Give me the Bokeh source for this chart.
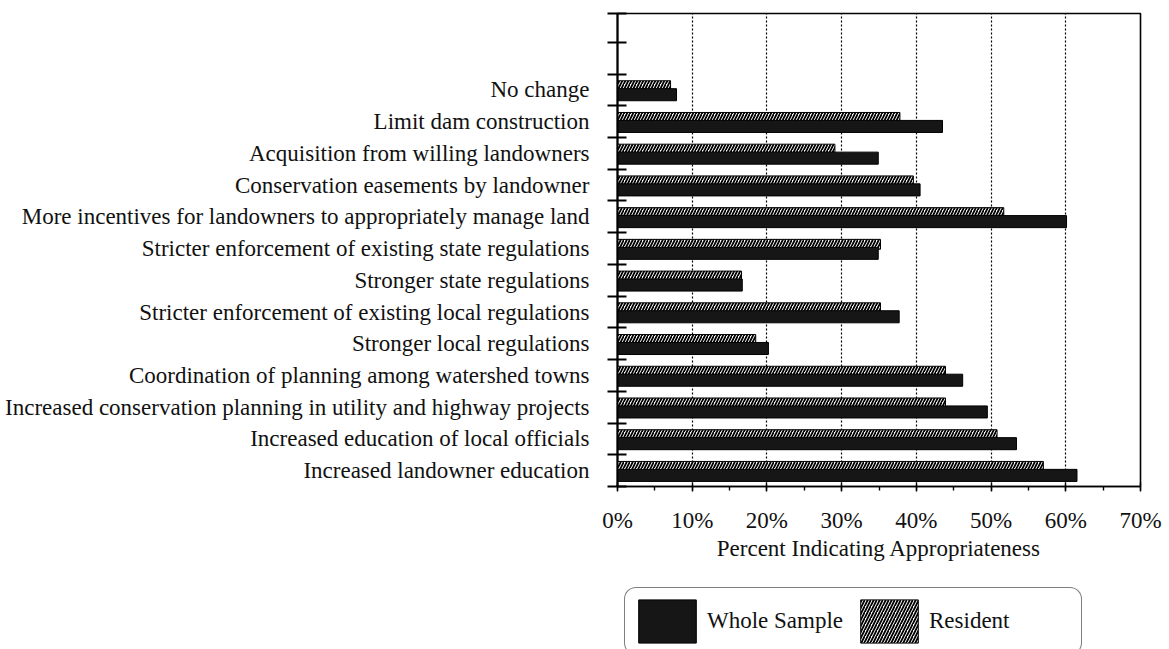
from bokeh.plotting import figure
from bokeh.layouts import column
from bokeh.models import (FixedTicker, SingleIntervalTicker, PrintfTickFormatter,
                          Legend, LegendItem, ColumnDataSource, Range1d)
from bokeh.embed import file_html
from bokeh.resources import INLINE

# ---------------- data (top to bottom as printed) ----------------
categories = [
    "No change",
    "Limit dam construction",
    "Acquisition from willing landowners",
    "Conservation easements by landowner",
    "More incentives for landowners to appropriately manage land",
    "Stricter enforcement of existing state regulations",
    "Stronger state regulations",
    "Stricter enforcement of existing local regulations",
    "Stronger local regulations",
    "Coordination of planning among watershed towns",
    "Increased conservation planning in utility and highway projects",
    "Increased education of local officials",
    "Increased landowner education",
]
whole_sample = [7.9, 43.5, 34.9, 40.5, 60.1, 34.9, 16.7, 37.7, 20.2, 46.2, 49.5, 53.4, 61.5]
resident = [7.1, 37.8, 29.1, 39.6, 51.7, 35.2, 16.6, 35.2, 18.5, 43.9, 43.9, 50.8, 57.0]
series_names = ["Whole Sample", "Resident"]
x_tick_step = 10
x_max = 70

FONT = "Liberation Serif"
WHOLE_STYLE = dict(fill_color="#161616", line_color="black", line_width=1)
RES_STYLE = dict(fill_color="white", line_color="black", line_width=1,
                 hatch_pattern="/", hatch_color="black", hatch_scale=6, hatch_weight=1.8)

LEFT, FRAME_W, RIGHT = 617, 523, 24
EMPTY_TOP = 1.91  # blank space above the first category, in slot units

n = len(categories)
centers = [n - 1 - i for i in range(n)]  # integer slot centers, bottom = 0
y_top = n - 0.5 + EMPTY_TOP

src = ColumnDataSource(dict(
    cat=categories,
    y_res=[c + 0.135 for c in centers],
    y_whole=[c - 0.15 for c in centers],
    whole=whole_sample,
    resident=resident,
))

p = figure(
    frame_width=FRAME_W, frame_height=473,
    min_border_left=LEFT, min_border_right=RIGHT, min_border_top=13, min_border_bottom=80,
    x_range=Range1d(0, x_max), y_range=Range1d(-0.5, y_top),
    output_backend="svg", toolbar_location=None,
)
p.background_fill_color = "white"
p.border_fill_color = "white"
p.outline_line_color = "black"
p.outline_line_width = 1.6

p.hbar(y="y_res", right="resident", left=0, height=0.31, source=src, **RES_STYLE)
p.hbar(y="y_whole", right="whole", left=0, height=0.38, source=src, **WHOLE_STYLE)

# grid
p.ygrid.visible = False
p.xgrid.grid_line_color = "black"
p.xgrid.grid_line_dash = "2 2"
p.xgrid.grid_line_width = 1.2

# x axis
xa = p.xaxis[0]
xa.ticker = SingleIntervalTicker(interval=x_tick_step, num_minor_ticks=2)
xa.formatter = PrintfTickFormatter(format="%d%%")
xa.axis_label = "Percent Indicating Appropriateness"
xa.axis_label_text_font = FONT
xa.axis_label_text_font_size = "23px"
xa.axis_label_text_font_style = "normal"
xa.axis_label_text_color = "#111111"
xa.axis_label_standoff = 0
xa.major_label_text_font = FONT
xa.major_label_text_font_size = "23px"
xa.major_label_text_color = "#111111"
xa.major_label_standoff = 16
xa.axis_line_color = "black"
xa.axis_line_width = 1.6
xa.major_tick_in = 4
xa.major_tick_out = 5
xa.minor_tick_in = 0
xa.minor_tick_out = 4
xa.major_tick_line_color = "black"
xa.minor_tick_line_color = "black"
xa.major_tick_line_width = 1.4
xa.minor_tick_line_width = 1.4

# y axis: labels at slot centers, crossing ticks at slot boundaries
ya = p.yaxis[0]
boundaries = [b - 0.5 for b in range(n + 2)] + [y_top]
ya.ticker = FixedTicker(ticks=centers, minor_ticks=boundaries)
ya.major_label_overrides = {c: categories[i] for i, c in enumerate(centers)}
ya.major_label_text_font = FONT
ya.major_label_text_font_size = "23px"
ya.major_label_text_color = "#111111"
ya.major_label_standoff = 18
ya.major_tick_in = 0
ya.major_tick_out = 0
ya.minor_tick_in = 9
ya.minor_tick_out = 10
ya.minor_tick_line_color = "black"
ya.minor_tick_line_width = 2
ya.axis_line_color = "black"
ya.axis_line_width = 2

# ---------------- legend strip below the chart ----------------
LEG_H = 83
p2 = figure(
    frame_width=FRAME_W, frame_height=LEG_H,
    min_border_left=LEFT, min_border_right=RIGHT, min_border_top=0, min_border_bottom=0,
    x_range=Range1d(0, 1), y_range=Range1d(0, 1),
    x_axis_type=None, y_axis_type=None,
    output_backend="svg", toolbar_location=None,
)
p2.outline_line_color = None
p2.grid.visible = False
p2.background_fill_color = "white"
p2.border_fill_color = "white"
# legend-only renderers (their single bar lies far outside the visible ranges)
leg_src = ColumnDataSource(dict(y=[-50.0], l=[-60.0], r=[-50.0]))
w_leg = p2.hbar(y="y", right="r", left="l", height=0.3, source=leg_src, **WHOLE_STYLE)
r_leg = p2.hbar(y="y", right="r", left="l", height=0.3, source=leg_src, **RES_STYLE)

legend = Legend(
    items=[LegendItem(label=series_names[0], renderers=[w_leg]),
           LegendItem(label=series_names[1], renderers=[r_leg])],
    orientation="horizontal",
    location=(7, -6),
    glyph_width=72, glyph_height=54,
    label_standoff=4, spacing=0, padding=6, label_width=146,
    label_text_font=FONT, label_text_font_size="23px", label_text_color="#111111",
    border_line_color="black", border_line_width=1.5,
    background_fill_color="white", background_fill_alpha=1.0,
    margin=0,
)
if "border_radius" in Legend.properties():
    legend.border_radius = 12
p2.add_layout(legend, "center")

layout = column(p, p2, spacing=0)
open("out.html", "w").write(file_html(layout, INLINE))
